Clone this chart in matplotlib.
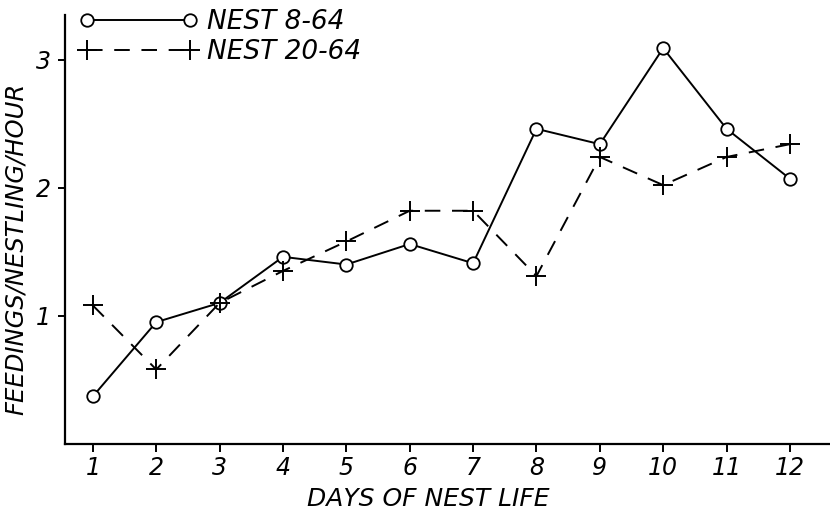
import matplotlib
matplotlib.use('Agg')
import matplotlib.pyplot as plt

# days of nest life
days = [1, 2, 3, 4, 5, 6, 7, 8, 9, 10, 11, 12]

# feedings per nestling per hour
nest_8_64 = [0.37, 0.95, 1.10, 1.46, 1.40, 1.56, 1.41, 2.46, 2.34, 3.09, 2.46, 2.07]
nest_20_64 = [1.08, 0.58, 1.10, 1.35, 1.58, 1.82, 1.82, 1.31, 2.24, 2.02, 2.24, 2.34]

y_ticks = [1, 2, 3]
y_tick_labels = ['1', '2', '3']
x_tick_labels = ['1', '2', '3', '4', '5', '6', '7', '8', '9', '10', '11', '12']

FONT = dict(family='DejaVu Sans', style='italic')

fig = plt.figure(figsize=(8.3, 5.13), dpi=100)
ax = fig.add_axes([0.0783, 0.135, 0.92, 0.836])

ax.plot(days, nest_8_64, color='black', linewidth=1.4,
        marker='o', markersize=9, markerfacecolor='white',
        markeredgecolor='black', markeredgewidth=1.3, label='NEST 8-64')
ax.plot(days, nest_20_64, color='black', linewidth=1.4,
        linestyle=(0, (8, 6)),
        marker='+', markersize=14, markeredgewidth=1.4, label='NEST 20-64')

ax.set_xlim(0.56, 12.61)
ax.set_ylim(0, 3.35)

ax.spines['top'].set_visible(False)
ax.spines['right'].set_visible(False)
ax.spines['left'].set_linewidth(1.6)
ax.spines['bottom'].set_linewidth(1.6)

ax.set_xticks(days)
ax.set_xticklabels(x_tick_labels, fontsize=17, **FONT)
ax.set_yticks(y_ticks)
ax.set_yticklabels(y_tick_labels, fontsize=17, **FONT)
ax.tick_params(axis='x', direction='out', length=6, width=1.4, pad=3)
ax.tick_params(axis='y', direction='out', length=5, width=1.4, pad=5)

ax.set_xlabel('DAYS OF NEST LIFE', fontsize=18, **FONT)
ax.xaxis.set_label_coords(0.476, -0.102)
ax.set_ylabel('FEEDINGS/NESTLING/HOUR', fontsize=17.5, **FONT)
ax.yaxis.set_label_coords(-0.049, 0.454)

leg = ax.legend(loc='upper left', bbox_to_anchor=(0.005, 1.038), frameon=False,
                numpoints=2, handlelength=4.5, handletextpad=0.35,
                labelspacing=0.15, borderaxespad=0.0,
                prop=dict(size=19, **FONT))

fig.savefig('out.png', dpi=100)
